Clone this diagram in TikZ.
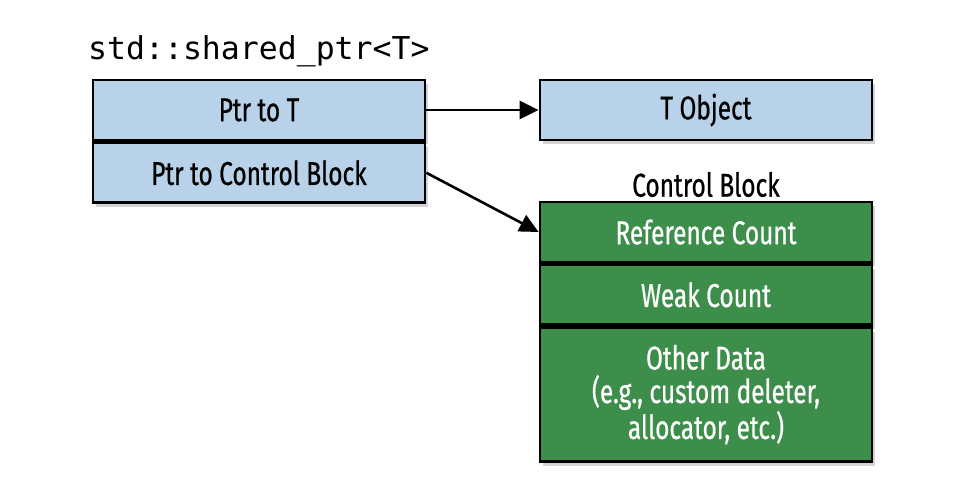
\documentclass[tikz,border=0pt]{standalone}
\usepackage{fontspec}
\setmainfont{Fira Sans}[FakeStretch=0.74, FakeBold=0.6]
\setmonofont{DejaVu Sans Mono}
\usetikzlibrary{arrows.meta,positioning,shadows}
\definecolor{ptrblue}{RGB}{184,211,233}
\definecolor{ctlgreen}{RGB}{61,142,74}
\tikzset{
  cell/.style={draw, line width=2.8pt, minimum width=332pt, minimum height=60pt,
    inner sep=0pt, align=center, drop shadow={shadow xshift=3pt, shadow yshift=-4pt, opacity=0.35}},
  bluecell/.style={cell, fill=ptrblue, text=black},
  greencell/.style={cell, fill=ctlgreen, text=white},
  ptrarrow/.style={line width=2.6pt, -{Triangle[length=19pt,width=18pt]}}
}

\begin{document}
\begin{tikzpicture}[x=1pt, y=-1pt, font=\fontsize{33}{35}\selectfont]
  \useasboundingbox (0,0) rectangle (978,500);

  % shared_ptr side
  \node[bluecell] (ptrT) at (259,110) {Ptr to T};
  \node[bluecell, below=0pt of ptrT] (ptrCB) {Ptr to Control Block};
  \node[anchor=base west, inner sep=0pt, font=\ttfamily\fontsize{31.5}{34}\selectfont] (title) at (88,60) {std::shared\_ptr<T>};

  % pointed-to things
  \node[bluecell] (tobj) at (706,110) {T Object};
  \node[greencell] (refcnt) at (706,232) {Reference Count};
  \node[greencell, below=0pt of refcnt] (weakcnt) {Weak Count};
  \node[greencell, below=0pt of weakcnt, minimum height=134pt, font=\fontsize{33}{33.5}\selectfont] (other)
    {Other Data\\(e.g., custom deleter,\\allocator, etc.)};
  \node[above=0pt of refcnt] (cblabel) {Control Block};

  \draw[ptrarrow] (ptrT.east) -- (tobj.west);
  \draw[ptrarrow] (ptrCB.east) -- (refcnt.west);
\end{tikzpicture}
\end{document}
